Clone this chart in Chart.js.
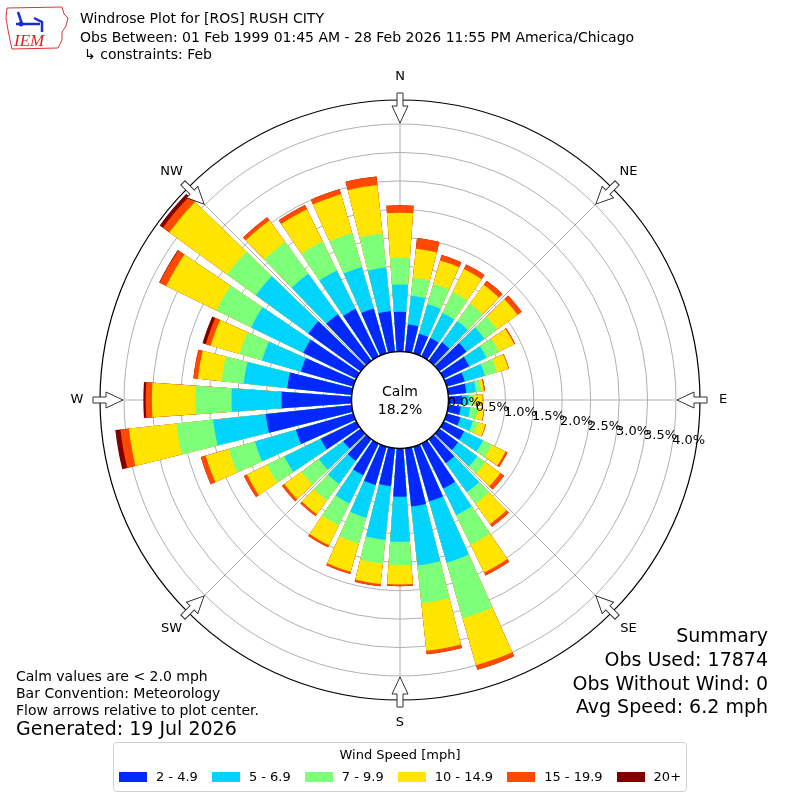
<!DOCTYPE html>
<html>
<head>
<meta charset="utf-8">
<script src="https://cdn.jsdelivr.net/npm/chart.js@4.4.1/dist/chart.umd.min.js"></script>
<style>
  body { margin: 0; width: 800px; height: 800px; position: relative; background: #fff; overflow: hidden;
         font-family: "DejaVu Sans", sans-serif; color: #000; }
  #rose { position: absolute; left: 0; top: 0; }
  .t { position: absolute; white-space: nowrap; line-height: 1; }
  .r { text-align: right; }
  #legend { position: absolute; left: 113px; top: 742px; width: 572px; height: 48px;
            border: 1px solid #d0d0d0; border-radius: 4px; font-size: 13px; }
  #legend .ttl { position: absolute; left: 0; right: 0; top: 4px; text-align: center; }
  #legend .row { position: absolute; left: 0; right: 0; top: 26px; display: flex; justify-content: center; }
  #legend .it { display: flex; align-items: center; margin: 0 7px; white-space: nowrap; }
  #legend .sw { width: 28px; height: 10px; margin-right: 9px; }
</style>
</head>
<body>
<canvas id="rose" width="800" height="800"></canvas>

<svg style="position:absolute;left:4px;top:4px" width="66" height="48" viewBox="0 0 66 48">
  <path d="M3 4 L58 3 L60 10 L64 14 L62 22 L58 28 L58 36 L54 44 L8 45 L6 36 L4 26 L2 14 Z"
        fill="none" stroke="#d33" stroke-width="1"/>
  <path d="M14 8 L18 20 M12 20 L36 20 M30 14 L38 18 L38 28" stroke="#1a2fd0" stroke-width="2.5" fill="none"/>
  <circle cx="17" cy="20" r="2.5" fill="#1a2fd0"/>
  <text x="10" y="42" font-family="Liberation Serif, serif" font-style="italic" font-size="17" fill="#d22">IEM</text>
</svg>

<div class="t" style="left:80px;top:11px;font-size:14px">Windrose Plot for [ROS] RUSH CITY</div>
<div class="t" style="left:80px;top:30px;font-size:14px">Obs Between: 01 Feb 1999 01:45 AM - 28 Feb 2026 11:55 PM America/Chicago</div>
<div class="t" style="left:84px;top:47px;font-size:14px">↳ constraints: Feb</div>

<div class="t" style="left:16px;top:669px;font-size:14px">Calm values are &lt; 2.0 mph</div>
<div class="t" style="left:16px;top:686px;font-size:14px">Bar Convention: Meteorology</div>
<div class="t" style="left:16px;top:703px;font-size:14px">Flow arrows relative to plot center.</div>
<div class="t" style="left:16px;top:719px;font-size:19px">Generated: 19 Jul 2026</div>

<div class="t r" style="right:32px;top:626px;font-size:19px">Summary</div>
<div class="t r" style="right:32px;top:650px;font-size:19px">Obs Used: 17874</div>
<div class="t r" style="right:32px;top:674px;font-size:19px">Obs Without Wind: 0</div>
<div class="t r" style="right:32px;top:697px;font-size:19px">Avg Speed: 6.2 mph</div>

<div id="legend"><div class="ttl">Wind Speed [mph]</div><div class="row"></div></div>

<script>
// wind directions (degrees, meteorological) and percent of obs per speed bin
const directions = [0, 10, 20, 30, 40, 50, 60, 70, 80, 90, 100, 110, 120, 130, 140, 150, 160, 170,
                    180, 190, 200, 210, 220, 230, 240, 250, 260, 270, 280, 290, 300, 310, 320, 330, 340, 350];
const compassLabels = ["N", "NE", "E", "SE", "S", "SW", "W", "NW"];
const speedBins = ["2 - 4.9", "5 - 6.9", "7 - 9.9", "10 - 14.9", "15 - 19.9", "20+"];
const binColors = ["#0028ff", "#00d4ff", "#7dff7a", "#ffe500", "#ff4800", "#800000"];

const speed2to5 = [0.70, 0.48, 0.36, 0.36, 0.40, 0.59, 0.50, 0.33, 0.32, 0.24, 0.22, 0.25,
                   0.40, 0.41, 0.52, 0.88, 1.00, 1.03, 0.85, 0.67, 0.70, 0.62, 0.47, 0.38,
                   0.70, 1.05, 1.52, 1.23, 1.14, 0.96, 1.04, 1.14, 1.01, 0.93, 0.82, 0.72];
const speed5to7 = [0.48, 0.51, 0.54, 0.49, 0.46, 0.39, 0.34, 0.37, 0.17, 0.12, 0.17, 0.23,
                   0.37, 0.42, 0.63, 0.52, 1.12, 1.04, 0.79, 0.95, 0.60, 0.55, 0.50, 0.53,
                   0.71, 0.75, 0.93, 0.88, 0.77, 0.71, 1.02, 1.14, 0.88, 0.75, 0.76, 0.77];
const speed7to10 = [0.47, 0.32, 0.37, 0.41, 0.38, 0.28, 0.24, 0.22, 0.09, 0.08, 0.13, 0.10,
                    0.17, 0.18, 0.25, 0.58, 1.02, 0.67, 0.41, 0.42, 0.47, 0.43, 0.36, 0.38,
                    0.34, 0.48, 0.65, 0.64, 0.39, 0.41, 0.68, 0.62, 0.69, 0.57, 0.62, 0.60];
const speed10to15 = [0.79, 0.51, 0.43, 0.45, 0.41, 0.44, 0.30, 0.21, 0.05, 0.16, 0.11, 0.13,
                     0.27, 0.32, 0.44, 0.54, 0.86, 0.84, 0.34, 0.36, 0.52, 0.39, 0.30, 0.37,
                     0.39, 0.42, 0.84, 0.76, 0.42, 0.53, 0.98, 1.26, 0.47, 0.63, 0.71, 0.86];
const speed15to20 = [0.13, 0.19, 0.10, 0.09, 0.09, 0.09, 0.02, 0.01, 0.02, 0.01, 0.01, 0.01,
                     0.04, 0.08, 0.06, 0.06, 0.08, 0.06, 0.03, 0.04, 0.04, 0.04, 0.04, 0.05,
                     0.06, 0.09, 0.15, 0.11, 0.08, 0.09, 0.13, 0.14, 0.07, 0.08, 0.09, 0.15];
const speed20plus = [0, 0, 0, 0, 0, 0, 0, 0, 0, 0, 0, 0,
                     0, 0, 0, 0, 0, 0, 0, 0, 0, 0, 0, 0,
                     0, 0, 0.09, 0.04, 0, 0.06, 0.01, 0.07, 0, 0, 0, 0];

const calmPercent = 18.2;
const ringTicks = [0, 0.5, 1.0, 1.5, 2.0, 2.5, 3.0, 3.5, 4.0];
const R_MIN = -0.853;   // leaves room for the calm circle
const R_MAX = 4.422;

const BAR_DEG = 8, GAP_DEG = 2, OFFSET_DEG = 356;

// slots: one leading offset slot, then bar/gap pairs for each direction
const series = [speed2to5, speed5to7, speed7to10, speed10to15, speed15to20, speed20plus];
const running = directions.map(() => 0);
const datasets = series.map((vals, k) => {
  const data = [0];
  directions.forEach((d, i) => {
    running[i] += vals[i];
    data.push(+running[i].toFixed(3), 0);
  });
  return {
    label: speedBins[k],
    data: data,
    backgroundColor: (c) => (c.dataIndex % 2 === 1 ? binColors[k] : "rgba(0,0,0,0)"),
    angle: (c) => (c.dataIndex === 0 ? OFFSET_DEG : (c.dataIndex % 2 === 1 ? BAR_DEG : GAP_DEG)),
    borderWidth: 0,
  };
});

const windroseDecor = {
  id: "windroseDecor",
  afterDraw(chart) {
    const ctx = chart.ctx;
    const sc = chart.scales.r;
    const cx = sc.xCenter, cy = sc.yCenter;
    const hole = sc.getDistanceFromCenterForValue(0);
    const outer = sc.getDistanceFromCenterForValue(R_MAX);
    ctx.save();

    // calm circle
    ctx.beginPath();
    ctx.arc(cx, cy, hole, 0, Math.PI * 2);
    ctx.fillStyle = "#fff";
    ctx.fill();
    ctx.lineWidth = 1.5;
    ctx.strokeStyle = "#000";
    ctx.stroke();
    ctx.fillStyle = "#000";
    ctx.font = '14px "DejaVu Sans"';
    ctx.textAlign = "center";
    ctx.textBaseline = "middle";
    ctx.fillText("Calm", cx, cy - 8);
    ctx.fillText(calmPercent.toFixed(1) + "%", cx, cy + 10);

    // ring labels
    ctx.font = '13px "DejaVu Sans"';
    ctx.textAlign = "left";
    ctx.textBaseline = "alphabetic";
    const la = 9.6 * Math.PI / 180;
    ringTicks.forEach((v) => {
      const d = sc.getDistanceFromCenterForValue(v);
      ctx.fillText(v.toFixed(1) + "%", cx + d * Math.cos(la), cy + d * Math.sin(la) - 2);
    });

    // compass labels and inward arrows
    ctx.textAlign = "center";
    ctx.textBaseline = "middle";
    compassLabels.forEach((lab, i) => {
      const b = i * Math.PI / 4;
      ctx.fillStyle = "#000";
      ctx.fillText(lab, cx + Math.sin(b) * (outer + 23), cy - Math.cos(b) * (outer + 23));
      ctx.save();
      ctx.translate(cx, cy);
      ctx.rotate(b - Math.PI / 2);
      const tip = outer - 23, base = outer - 6, tail = outer + 7;
      ctx.beginPath();
      ctx.moveTo(tip, 0);
      ctx.lineTo(base, 8);
      ctx.lineTo(base, 3);
      ctx.lineTo(tail, 3);
      ctx.lineTo(tail, -3);
      ctx.lineTo(base, -3);
      ctx.lineTo(base, -8);
      ctx.closePath();
      ctx.fillStyle = "#fff";
      ctx.fill();
      ctx.lineWidth = 1;
      ctx.strokeStyle = "#333";
      ctx.stroke();
      ctx.restore();
    });
    ctx.restore();
  },
};

new Chart(document.getElementById("rose"), {
  type: "polarArea",
  data: { labels: compassLabels, datasets: datasets },
  options: {
    responsive: false,
    animation: false,
    events: [],
    layout: { padding: { left: 100, right: 100, top: 100, bottom: 100 } },
    plugins: { legend: { display: false }, tooltip: { enabled: false } },
    scales: {
      r: {
        z: 1,
        min: R_MIN,
        max: R_MAX,
        startAngle: 0,
        afterBuildTicks: (scale) => {
          scale.ticks = ringTicks.concat([R_MAX]).map((v) => ({ value: v }));
        },
        ticks: { display: false },
        pointLabels: { display: false },
        angleLines: { display: true, color: "#b0b0b0", lineWidth: 1 },
        grid: {
          circular: true,
          color: (c) => (c.tick && c.tick.value === R_MAX ? "#000" : "#b0b0b0"),
          lineWidth: (c) => (c.tick && c.tick.value === R_MAX ? 1.2 : 1),
        },
      },
    },
  },
  plugins: [windroseDecor],
});

// legend built from the bin arrays
const row = document.querySelector("#legend .row");
speedBins.forEach((name, k) => {
  const it = document.createElement("div");
  it.className = "it";
  const sw = document.createElement("div");
  sw.className = "sw";
  sw.style.background = binColors[k];
  it.appendChild(sw);
  it.appendChild(document.createTextNode(name));
  row.appendChild(it);
});
</script>
</body>
</html>
